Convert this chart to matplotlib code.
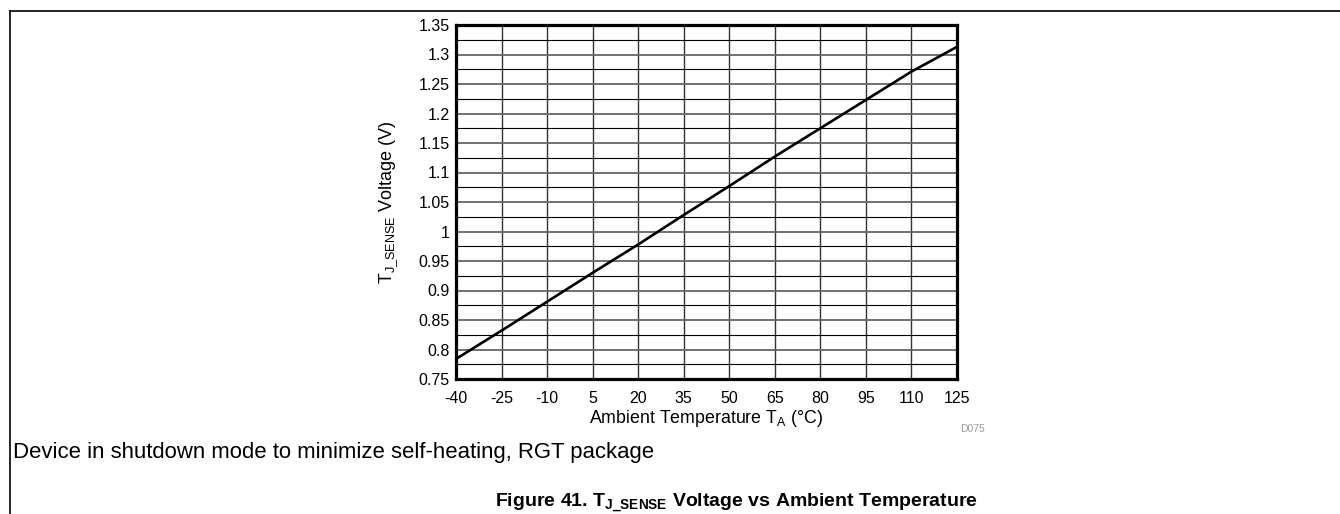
import numpy as np
import matplotlib
matplotlib.use('Agg')
import matplotlib.pyplot as plt
from matplotlib.lines import Line2D
from matplotlib.ticker import MultipleLocator

plt.rcParams['font.family'] = ['Liberation Sans', 'DejaVu Sans']
plt.rcParams['mathtext.fontset'] = 'custom'
plt.rcParams['mathtext.rm'] = 'Liberation Sans'
plt.rcParams['mathtext.bf'] = 'Liberation Sans:bold'

# values
temp = [-40, -25, -10, 5, 20, 35, 50, 65, 80, 95, 110, 125]
volt = [0.784, 0.832, 0.881, 0.930, 0.978, 1.028, 1.077, 1.127, 1.175, 1.223, 1.271, 1.313]
xticks = [-40, -25, -10, 5, 20, 35, 50, 65, 80, 95, 110, 125]
yticks = [0.75, 0.8, 0.85, 0.9, 0.95, 1, 1.05, 1.1, 1.15, 1.2, 1.25, 1.3, 1.35]
ylabels = ['0.75', '0.8', '0.85', '0.9', '0.95', '1', '1.05', '1.1', '1.15', '1.2', '1.25', '1.3', '1.35']

W, H = 1340, 514
fig = plt.figure(figsize=(W/100, H/100), dpi=100)
ax = fig.add_axes([456/W, 1-379/H, (957-456)/W, (379-25)/H])

ax.plot(temp, volt, color='black', lw=1.9, zorder=3)

ax.set_xlim(-40, 125)
ax.set_ylim(0.75, 1.35)
ax.set_xticks(xticks)
ax.set_xticklabels([str(t) for t in xticks])
ax.set_yticks(yticks)
ax.set_yticklabels(ylabels)
ax.yaxis.set_minor_locator(MultipleLocator(0.025))
ax.tick_params(which='both', length=0, labelsize=11.5)
ax.tick_params(axis='x', pad=8.5)
ax.tick_params(axis='y', pad=4.5)

# grid: every 15 degC and every 25 mV
ax.grid(True, axis='x', which='major', color='#333333', lw=1.0)
ax.grid(True, axis='y', which='major', color='#666666', lw=1.3)
ax.grid(True, axis='y', which='minor', color='black', lw=0.8)
for s in ax.spines.values():
    s.set_linewidth(2.3)
    s.set_zorder(4)

ax.set_xlabel(r'Ambient Temperature T$_{\mathrm{A}}$ (°C)', fontsize=12.8)
ax.xaxis.set_label_coords(0.5, -0.082)
ax.set_ylabel(r'T$_{\mathrm{J\_SENSE}}$ Voltage (V)', fontsize=13)
ax.yaxis.set_label_coords(-0.112, 0.5)

fig.text(985/W, 1-432/H, 'D075', color='#9a9a9a', fontsize=7.5, va='baseline', ha='right')
fig.text(13/W, 1-458/H, 'Device in shutdown mode to minimize self-heating, RGT package',
         fontsize=15.9, va='baseline', ha='left')
fig.text(978/W, 1-507/H, r'Figure 41. T$_{\mathbf{J\_SENSE}}$ Voltage vs Ambient Temperature',
         fontsize=14, fontweight='bold', va='baseline', ha='right')

# page frame lines
fig.add_artist(Line2D([10/W, 1], [1-11/H, 1-11/H], color='black', lw=1.2))
fig.add_artist(Line2D([10/W, 10/W], [0, 1-11/H], color='black', lw=1.2))

fig.savefig('out.png', dpi=100)
